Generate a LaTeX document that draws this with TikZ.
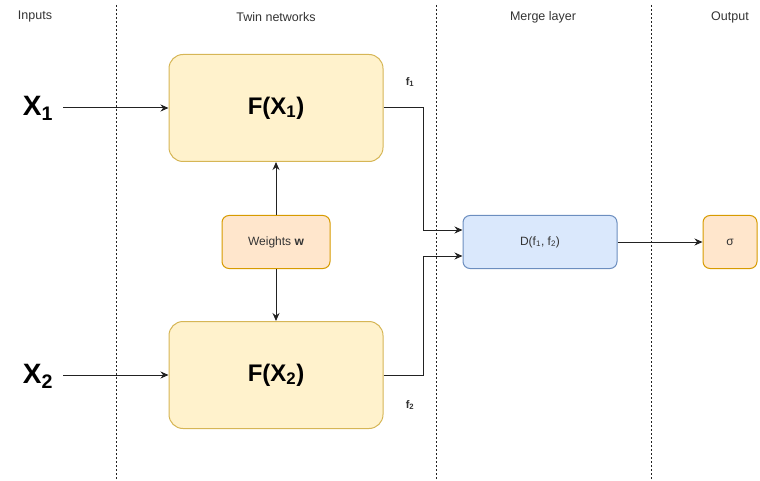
\documentclass[tikz,border=0pt]{standalone}
\usepackage{fontspec}
\setmainfont{Liberation Sans}
\usetikzlibrary{arrows.meta}
\definecolor{netfill}{HTML}{FFF2CC}
\definecolor{netline}{HTML}{D6B656}
\definecolor{orfill}{HTML}{FFE6CC}
\definecolor{orline}{HTML}{D79B00}
\definecolor{bluefill}{HTML}{DAE8FC}
\definecolor{blueline}{HTML}{6C8EBF}
\definecolor{headtxt}{HTML}{333333}
\definecolor{linecol}{HTML}{222222}
\begin{document}
\begin{tikzpicture}[x=1pt,y=-1pt,
  netbox/.style={draw=netline,fill=netfill,line width=1pt,rounded corners=14pt,minimum width=214pt,minimum height=107pt,font=\bfseries\fontsize{24}{28}\selectfont},
  smallbox/.style={draw=orline,fill=orfill,line width=1pt,rounded corners=7pt,minimum height=53pt,font=\fontsize{12}{14}\selectfont,text=headtxt},
  mergebox/.style={draw=blueline,fill=bluefill,line width=1pt,rounded corners=7pt,minimum width=154pt,minimum height=53pt,font=\fontsize{12}{14}\selectfont,text=headtxt},
  header/.style={font=\fontsize{12.5}{14}\selectfont,text=headtxt},
  inlabel/.style={font=\bfseries\fontsize{28}{32}\selectfont},
  flabel/.style={font=\bfseries\fontsize{11}{12}\selectfont,text=headtxt},
  sep/.style={line width=0.8pt,dash pattern=on 2pt off 2pt,draw=linecol},
  conn/.style={line width=1pt,draw=linecol,-{Stealth[length=8pt,width=7pt]}}]
\useasboundingbox (0,0) rectangle (760,481);
% column separators
\draw[sep] (116,5) -- (116,481);
\draw[sep] (436,5) -- (436,481);
\draw[sep] (651,5) -- (651,481);
% column titles
\node[header] (hin) at (35,17) {Inputs};
\node[header] (htw) at (276,17) {Twin networks};
\node[header] (hme) at (543,17) {Merge layer};
\node[header] (hout) at (730,17) {Output};
% twin networks
\node[netbox] (f1) at (276,108) {F(X\textsubscript{1})};
\node[netbox] (f2) at (276,375) {F(X\textsubscript{2})};
\node[smallbox,minimum width=108pt] (w) at (276,242) {Weights \textbf{w}};
% merge and output
\node[mergebox] (d) at (540,242) {D(f\textsubscript{1}, f\textsubscript{2})};
\node[smallbox,minimum width=54pt] (s) at (730,242) {σ};
% inputs
\node[inlabel] (x1) at (38,108) {X\textsubscript{1}};
\node[inlabel] (x2) at (38,376) {X\textsubscript{2}};
% feature labels
\node[flabel] (l1) at (410,82) {f\textsubscript{1}};
\node[flabel] (l2) at (410,405) {f\textsubscript{2}};
\coordinate (c1) at (423,108);
\coordinate (c2) at (423,375);
% connectors
\draw[conn] (63,108) -- (f1.west);
\draw[conn] (63,375) -- (f2.west);
\draw[conn] (w.north) -- (f1.south);
\draw[conn] (w.south) -- (f2.north);
\draw[conn] (f1.east) -- (c1) -- (c1 |- 0,230) -- (d.west |- 0,230);
\draw[conn] (f2.east) -- (c2) -- (c2 |- 0,256) -- (d.west |- 0,256);
\draw[conn] (d.east) -- (s.west);
\end{tikzpicture}
\end{document}
